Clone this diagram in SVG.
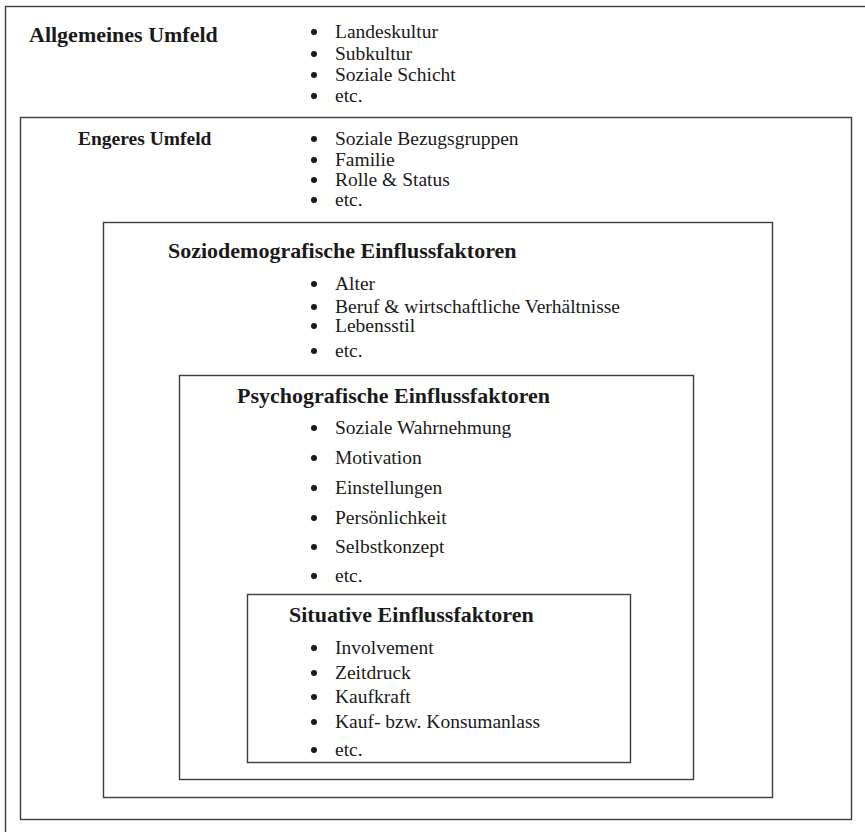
<svg xmlns="http://www.w3.org/2000/svg" width="865" height="832" viewBox="0 0 865 832">
<style>
.box{fill:none;stroke:#3c3c3c;stroke-width:1.4}
.t{font-family:"Liberation Serif","Times New Roman",serif;font-weight:bold;font-size:22px;fill:#1a1a1a}
.t2{font-family:"Liberation Serif","Times New Roman",serif;font-weight:bold;font-size:19.5px;fill:#1a1a1a}
.i{font-family:"Liberation Serif","Times New Roman",serif;font-size:19.5px;fill:#1a1a1a}
.b{fill:#1a1a1a}
</style>
<rect width="865" height="832" fill="#ffffff"/>
<g id="allgemeines-umfeld">
<rect class="box" x="5.5" y="6.5" width="900" height="900"/>
<text class="t" x="29" y="42">Allgemeines Umfeld</text>
<circle class="b" cx="314" cy="32" r="3"/><text class="i" x="335" y="38">Landeskultur</text>
<circle class="b" cx="314" cy="54" r="3"/><text class="i" x="335" y="60">Subkultur</text>
<circle class="b" cx="314" cy="75" r="3"/><text class="i" x="335" y="81">Soziale Schicht</text>
<circle class="b" cx="314" cy="96" r="3"/><text class="i" x="335" y="102">etc.</text>
</g>
<g id="engeres-umfeld">
<rect class="box" x="20.5" y="117.5" width="831" height="702"/>
<text class="t2" x="78" y="145">Engeres Umfeld</text>
<circle class="b" cx="314" cy="139" r="3"/><text class="i" x="335" y="145">Soziale Bezugsgruppen</text>
<circle class="b" cx="314" cy="160" r="3"/><text class="i" x="335" y="166">Familie</text>
<circle class="b" cx="314" cy="180" r="3"/><text class="i" x="335" y="186">Rolle &amp; Status</text>
<circle class="b" cx="314" cy="200" r="3"/><text class="i" x="335" y="206">etc.</text>
</g>
<g id="soziodemografische-einflussfaktoren">
<rect class="box" x="103.5" y="222.5" width="669" height="575"/>
<text class="t" x="168" y="258">Soziodemografische Einflussfaktoren</text>
<circle class="b" cx="314" cy="284" r="3"/><text class="i" x="335" y="290">Alter</text>
<circle class="b" cx="314" cy="307" r="3"/><text class="i" x="335" y="313">Beruf &amp; wirtschaftliche Verhältnisse</text>
<circle class="b" cx="314" cy="326" r="3"/><text class="i" x="335" y="332">Lebensstil</text>
<circle class="b" cx="314" cy="351" r="3"/><text class="i" x="335" y="357">etc.</text>
</g>
<g id="psychografische-einflussfaktoren">
<rect class="box" x="179.5" y="375.5" width="514" height="404"/>
<text class="t" x="237" y="403">Psychografische Einflussfaktoren</text>
<circle class="b" cx="314" cy="428" r="3"/><text class="i" x="335" y="434">Soziale Wahrnehmung</text>
<circle class="b" cx="314" cy="458" r="3"/><text class="i" x="335" y="464">Motivation</text>
<circle class="b" cx="314" cy="488" r="3"/><text class="i" x="335" y="494">Einstellungen</text>
<circle class="b" cx="314" cy="518" r="3"/><text class="i" x="335" y="524">Persönlichkeit</text>
<circle class="b" cx="314" cy="547" r="3"/><text class="i" x="335" y="553">Selbstkonzept</text>
<circle class="b" cx="314" cy="576" r="3"/><text class="i" x="335" y="582">etc.</text>
</g>
<g id="situative-einflussfaktoren">
<rect class="box" x="247.5" y="594.5" width="383" height="168"/>
<text class="t" x="289" y="622">Situative Einflussfaktoren</text>
<circle class="b" cx="314" cy="648" r="3"/><text class="i" x="335" y="654">Involvement</text>
<circle class="b" cx="314" cy="673" r="3"/><text class="i" x="335" y="679">Zeitdruck</text>
<circle class="b" cx="314" cy="697" r="3"/><text class="i" x="335" y="703">Kaufkraft</text>
<circle class="b" cx="314" cy="722" r="3"/><text class="i" x="335" y="728">Kauf- bzw. Konsumanlass</text>
<circle class="b" cx="314" cy="750" r="3"/><text class="i" x="335" y="756">etc.</text>
</g>
</svg>
